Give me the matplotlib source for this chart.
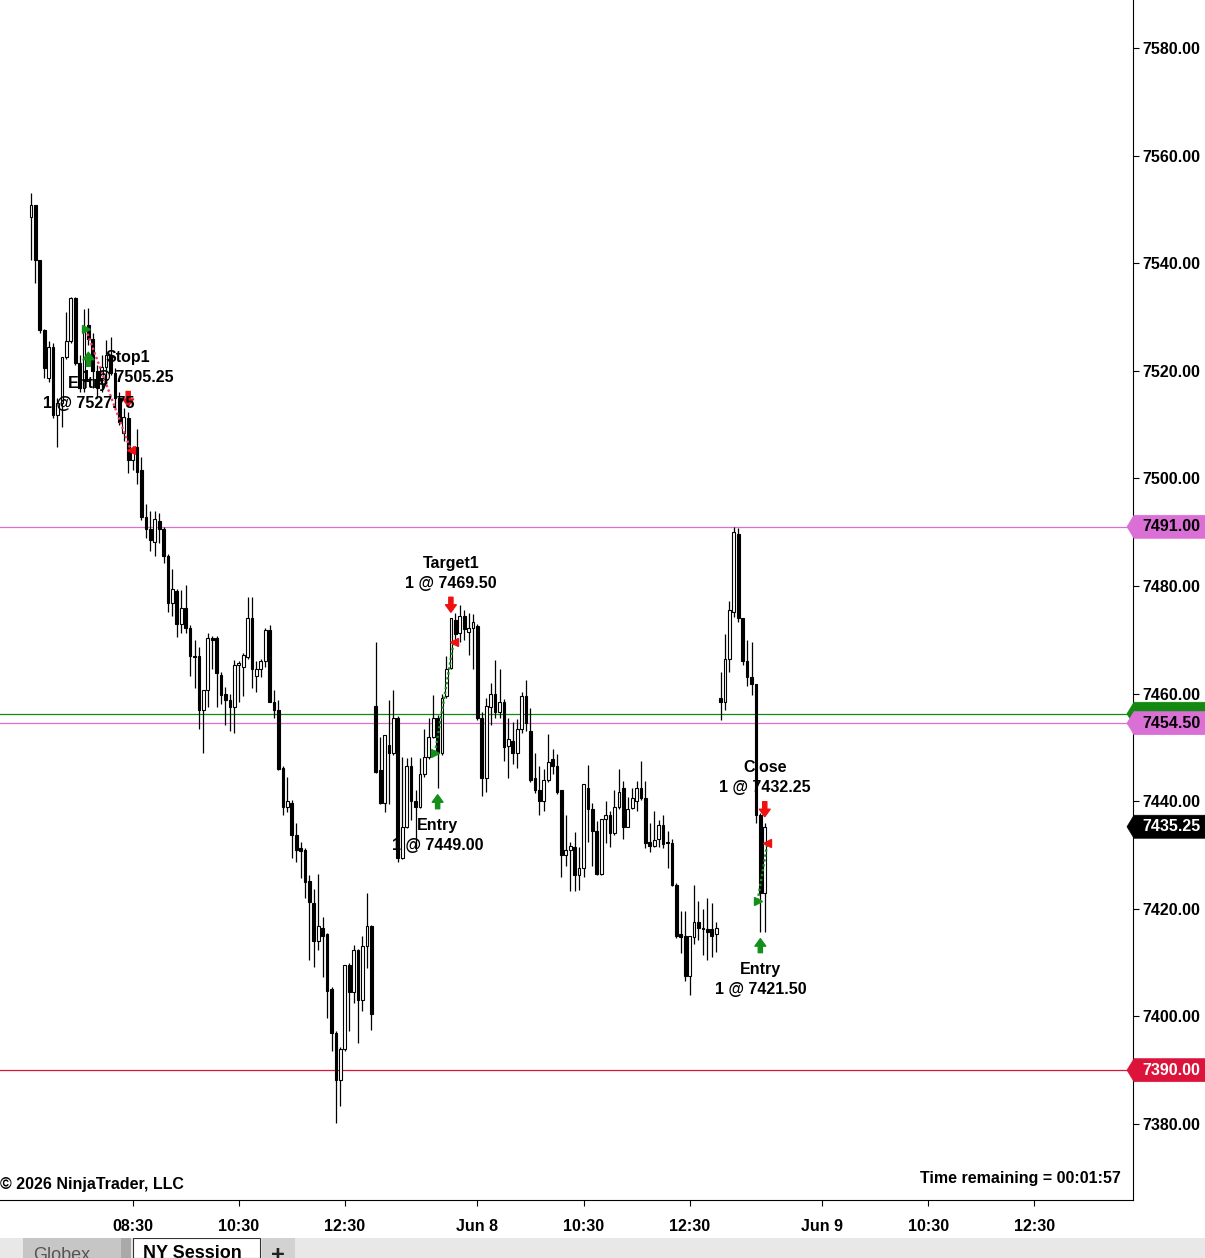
import numpy as np
import matplotlib.pyplot as plt
from matplotlib.patches import Polygon, Rectangle
from matplotlib.transforms import blended_transform_factory

plt.rcParams['font.family'] = ['Liberation Sans', 'DejaVu Sans']
plt.rcParams['font.size'] = 11.5
plt.rcParams['font.weight'] = 'bold'

# --- session 1 (Jun 5), 5 minute bars
d1_open = [7548.5, 7550.75, 7540.5, 7527.5, 7518.75, 7524.5, 7511.75, 7514, 7522.5, 7525.5,
           7533.5, 7521.5, 7516.75, 7528.5, 7526, 7520, 7518.75, 7520.75, 7523, 7519.5,
           7515, 7508.5, 7511.25, 7503.5, 7505.75, 7501.5, 7492.75, 7490.5, 7488.25, 7492,
           7490.5, 7485.5, 7476.75, 7479, 7473, 7476, 7472.25, 7467, 7467, 7457,
           7460.75, 7470.25, 7470.25, 7463.5, 7460, 7458.75, 7457.5, 7465.25, 7465, 7466.75,
           7474, 7463.25, 7464.5, 7466, 7471.75, 7458.5, 7457, 7446.25, 7439, 7439.75,
           7433.75, 7431.25, 7431, 7425.25, 7421, 7414, 7416.5, 7415.25, 7405, 7397,
           7388.25, 7394, 7409.5, 7404.5, 7412.25, 7403, 7413, 7416.75]
d1_high = [7553, 7550.75, 7540.5, 7527.75, 7525.5, 7525.25, 7515, 7522.5, 7531, 7533.75,
           7533.75, 7523, 7531.5, 7531.75, 7527, 7521, 7523, 7525.75, 7526.25, 7520.5,
           7516, 7513, 7512.25, 7506, 7509.25, 7504, 7495.25, 7494, 7494, 7493.5,
           7491, 7486, 7483.25, 7479.5, 7479.25, 7480.25, 7472.75, 7470, 7468.75, 7460.75,
           7471.25, 7470.75, 7470.75, 7464, 7461.25, 7460, 7466.25, 7466, 7467.5, 7478,
           7478, 7466, 7466.5, 7472.25, 7472.75, 7460.75, 7458.75, 7446.5, 7444.5, 7440.25,
           7436, 7432.5, 7431.25, 7426.25, 7423.75, 7426.5, 7418.5, 7415.5, 7405.5, 7397.25,
           7394.25, 7409.5, 7410, 7413.25, 7412.5, 7415, 7423, 7417]
d1_low = [7540.5, 7536.25, 7527, 7518.75, 7518, 7511.25, 7505.75, 7509.5, 7522.25, 7525.25,
          7521, 7516, 7516, 7524.75, 7516.75, 7515, 7516, 7517.5, 7519.25, 7513,
          7510, 7507, 7501, 7501.5, 7499, 7492.25, 7489, 7486.5, 7485.5, 7488,
          7484.25, 7475.25, 7474.5, 7470.5, 7471.25, 7471.25, 7463.25, 7461, 7453.5, 7449,
          7457.5, 7464.5, 7457.5, 7458, 7454.25, 7453, 7452.75, 7458.5, 7459.5, 7466.5,
          7461, 7460.25, 7463, 7465, 7458.5, 7455.5, 7445.75, 7437.5, 7438, 7429.5,
          7428.75, 7425.75, 7422, 7410.5, 7409.25, 7412.25, 7407.25, 7399.75, 7393.5, 7380.25,
          7383.25, 7393.5, 7397.25, 7402.5, 7395, 7401, 7409, 7397.5]
d1_close = [7550.75, 7540.5, 7527.5, 7520.5, 7524.5, 7511.75, 7514, 7522.5, 7525.5, 7533.5,
            7521.5, 7516.75, 7528, 7526, 7520, 7516.75, 7520.75, 7523, 7519.5, 7515,
            7510.5, 7511.5, 7503.5, 7505, 7501.25, 7492.75, 7490.5, 7488.5, 7492.5, 7490.5,
            7485.5, 7476.75, 7479.5, 7473, 7476, 7472.25, 7467, 7466.75, 7457, 7460.75,
            7470.25, 7470, 7463.75, 7459.75, 7458.75, 7457.5, 7465.25, 7465.75, 7467.25, 7474,
            7464.5, 7464.5, 7466, 7471.75, 7458.5, 7457, 7446, 7439, 7440, 7433.75,
            7431, 7430.75, 7425, 7421.25, 7414, 7416.75, 7415, 7404.75, 7397, 7388.25,
            7394, 7409.5, 7404.5, 7412.25, 7403, 7413, 7416.75, 7400.5]

# --- session 2 (Jun 8)
d2_open = [7457.75, 7445.75, 7439.75, 7450.5, 7449, 7455.5, 7429.5, 7435.25, 7446.5, 7440,
           7439, 7445, 7448.25, 7452, 7455.5, 7449, 7459.5, 7464.75, 7473.75, 7471.25,
           7474.5, 7471.5, 7472.25, 7472.5, 7455.5, 7444.25, 7457.5, 7460, 7456.5, 7458.5,
           7450.25, 7451.25, 7449, 7453.5, 7459.5, 7453, 7444.25, 7442, 7440, 7444,
           7447.75, 7446.5, 7442, 7430, 7431, 7431.5, 7426.25, 7427.5, 7442.5, 7438.5,
           7434.5, 7426.5, 7436.75, 7437.5, 7434, 7439, 7442.5, 7435.25, 7438.75, 7440,
           7442.5, 7440.5, 7432.5, 7431.75, 7433, 7435.5, 7432.5, 7432.25, 7424.5, 7415.25,
           7415, 7407.5, 7414.75, 7417.5, 7416.5, 7416.25, 7416.25, 7415.25]
d2_high = [7469.5, 7452, 7452.25, 7458.75, 7460.75, 7455.75, 7448.25, 7448, 7448.25, 7442,
           7448, 7453.5, 7455.5, 7459.75, 7456, 7460, 7467, 7474, 7475, 7476.5,
           7475.5, 7475, 7474.75, 7473, 7456.5, 7459.25, 7462, 7466.25, 7464.5, 7459,
           7455.5, 7454.75, 7455.25, 7460.25, 7462.5, 7457.25, 7449, 7446.5, 7446, 7452.5,
           7449.75, 7448.75, 7442, 7437.5, 7432.5, 7434.25, 7431.5, 7443.25, 7446.75, 7439.75,
           7436.25, 7436.75, 7440, 7438.25, 7442, 7446, 7443.75, 7440.75, 7442.5, 7443.75,
           7447.5, 7443.75, 7436, 7438.25, 7436.5, 7437.5, 7434.5, 7433, 7424.75, 7419.5,
           7419.5, 7415, 7424.5, 7421.5, 7420, 7422, 7421, 7417.5]
d2_low = [7445.25, 7439.5, 7438, 7439.5, 7448.5, 7428.75, 7429.25, 7435, 7436.5, 7431,
          7438.75, 7444.5, 7447.75, 7451.75, 7442.5, 7448.5, 7459.25, 7464.5, 7469.5, 7469.5,
          7470, 7467.25, 7464.5, 7455, 7441, 7441.75, 7454.25, 7455.5, 7455.5, 7447.5,
          7444.25, 7447, 7446.25, 7452.75, 7453, 7443.5, 7441.5, 7437.5, 7438.25, 7443.5,
          7445, 7441.25, 7426, 7428, 7423.25, 7423.25, 7423.5, 7426, 7432.5, 7428,
          7426.25, 7426.25, 7432.25, 7431.5, 7433.75, 7438.5, 7433, 7435.25, 7438.5, 7438.25,
          7440.25, 7431.25, 7430.5, 7431.5, 7431.5, 7431.25, 7427.5, 7424.25, 7414.5, 7411.75,
          7406.5, 7404, 7413.5, 7414.25, 7411.5, 7410.5, 7411, 7412]
d2_close = [7445.5, 7439.75, 7452.25, 7449, 7455.5, 7429.5, 7435.25, 7446.5, 7440, 7439,
            7445, 7448.25, 7452, 7455.5, 7449, 7459.25, 7464.5, 7474, 7471, 7474.5,
            7472, 7472.25, 7473.25, 7455.5, 7444.25, 7457.75, 7460, 7456.5, 7458.5, 7450,
            7451.5, 7449, 7453.5, 7459.5, 7454.5, 7444, 7442, 7440, 7444, 7447.25,
            7446.5, 7441.75, 7430, 7431, 7431.75, 7426.25, 7427.5, 7443.25, 7438.5, 7434.5,
            7426.5, 7436.75, 7437.5, 7434, 7439, 7441.75, 7435.25, 7438.5, 7440.5, 7442.5,
            7440.5, 7432.25, 7431.75, 7432.75, 7435.5, 7432, 7432.25, 7424.5, 7415, 7414.75,
            7407.5, 7415, 7417.5, 7416.5, 7416.25, 7415.75, 7415, 7416.5]

# --- session 3 (Jun 9), still running
d3_open = [7459.25, 7458.5, 7466.5, 7475.25, 7489.75, 7474, 7466, 7463, 7461.75, 7437.5, 7423]
d3_high = [7464, 7471, 7477.25, 7491, 7490.75, 7474, 7470, 7469.5, 7461.75, 7437.75, 7436]
d3_low = [7455, 7457, 7464, 7474.25, 7473.25, 7465.25, 7461.5, 7459.75, 7436, 7415.75, 7415.75]
d3_close = [7458.5, 7466.5, 7475.5, 7490, 7474, 7466, 7463, 7461.75, 7437.5, 7423, 7435.25]

# trades (bar number counted over all sessions)
entry_bar = [13, 92, 165]
exit_bar = [22, 95, 166]
entry_price = [7527.75, 7449.00, 7421.50]
exit_price = [7505.25, 7469.50, 7432.25]
exit_name = ['Stop1', 'Target1', 'Close']
qty = [1, 1, 1]

# horizontal price levels (the green one sits behind the pink tag)
level_price = [7491.00, 7456.25, 7454.50, 7390.00]
level_color = ['#DA70D6', '#128A12', '#DA70D6', '#DC143C']
level_text = ['black', None, 'black', 'white']

# x axis labels: (session, time, label)
tick_session = [0, 0, 0, 1, 1, 1, 2, 2, 2]
tick_time = ['08:30', '10:30', '12:30', '08:30', '10:30', '12:30', '08:30', '10:30', '12:30']
tick_label = ['08:30', '10:30', '12:30', 'Jun 8', '10:30', '12:30', 'Jun 9', '10:30', '12:30']
bars_per_session = 78

opens = np.array(d1_open + d2_open + d3_open)
highs = np.array(d1_high + d2_high + d3_high)
lows = np.array(d1_low + d2_low + d3_low)
closes = np.array(d1_close + d2_close + d3_close)
idx = np.arange(len(opens))


def bar_of(session, hhmm):
    h, m = hhmm.split(':')
    minutes = int(h) * 60 + int(m)
    return session * bars_per_session + (minutes - (6 * 60 + 35)) / 5


W, H = 1205, 1258
fig = plt.figure(figsize=(W / 100, H / 100), dpi=100)
ax = fig.add_axes([0, 58 / H, 1133 / W, 1200 / H])
ymin, ymax = 7365.87, 7588.92
ax.set_xlim(-7.0, 249.3)
ax.set_ylim(ymin, ymax)
px = 1200 / (ymax - ymin)   # pixels per point of price
pt = 0.72                   # points per pixel

# candles
up = closes >= opens
ax.vlines(idx, lows, highs, color='black', lw=0.9, zorder=2)
ax.bar(idx, np.abs(closes - opens), bottom=np.minimum(opens, closes), width=0.62,
       color=np.where(up, 'white', 'black'), edgecolor='black', linewidth=0.8, zorder=3)

# level lines + tags on the price axis
trans = blended_transform_factory(ax.transAxes, ax.transData)
tag_z = [10]


def price_tag(p, face, tc):
    h = 11.5 / px
    x0, x1, x2 = 1127 / 1133, 1134 / 1133, 1205 / 1133
    z = tag_z[0]
    tag_z[0] += 2
    poly = Polygon([(x0, p), (x1, p + h), (x2, p + h), (x2, p - h), (x1, p - h)], closed=True,
                   transform=trans, facecolor=face, edgecolor=face, lw=0.5, clip_on=False, zorder=z)
    ax.add_patch(poly)
    if tc is not None:
        ax.text(1142 / 1133, p, f'{p:.2f}', transform=trans, ha='left', va='center', color=tc,
                fontsize=11.5, fontweight='bold', clip_on=False, zorder=z + 1)


for p, c, tc in zip(level_price, level_color, level_text):
    ax.axhline(p, color=c, lw=0.9, zorder=1)
    price_tag(p, c, tc)
price_tag(closes[-1], 'black', 'white')

# trades
green = '#14901A'
red = '#F01010'
for k in range(len(entry_bar)):
    ei, xi = entry_bar[k], exit_bar[k]
    lo, hi = lows[ei], highs[xi]
    win = exit_price[k] > entry_price[k]
    ax.plot([ei - 0.6, xi + 0.6], [entry_price[k], exit_price[k]], ls=(0, (1, 1.1)), lw=1.7,
            color=green if win else '#F0406A', zorder=4)
    ax.plot(ei - 0.6, entry_price[k], marker='>', color=green, ms=6, zorder=5)
    ax.plot(xi + 0.6, exit_price[k], marker='<', color=red, ms=6, zorder=5)
    ax.annotate('', xy=(ei, lo), xytext=(0, -21 * pt), textcoords='offset points',
                arrowprops=dict(arrowstyle='simple,head_length=0.45,head_width=0.65,tail_width=0.25',
                                mutation_scale=12, color=green, shrinkA=0, shrinkB=7 * pt), zorder=5)
    ax.annotate('', xy=(xi, hi), xytext=(0, 21 * pt), textcoords='offset points',
                arrowprops=dict(arrowstyle='simple,head_length=0.45,head_width=0.65,tail_width=0.25',
                                mutation_scale=12, color=red, shrinkA=0, shrinkB=6 * pt), zorder=5)
    ax.annotate('Entry', xy=(ei, lo), xytext=(0, -38 * pt), textcoords='offset points',
                ha='center', va='center', fontsize=11.5, fontweight='bold', zorder=8)
    ax.annotate(f'{qty[k]} @ {entry_price[k]:.2f}', xy=(ei, lo), xytext=(0, -58 * pt),
                textcoords='offset points', ha='center', va='center', fontsize=11.5,
                fontweight='bold', zorder=8)
    ax.annotate(exit_name[k], xy=(xi, hi), xytext=(0, 55 * pt), textcoords='offset points',
                ha='center', va='center', fontsize=11.5, fontweight='bold', zorder=8)
    ax.annotate(f'{qty[k]} @ {exit_price[k]:.2f}', xy=(xi, hi), xytext=(0, 35 * pt),
                textcoords='offset points', ha='center', va='center', fontsize=11.5,
                fontweight='bold', zorder=8)

# axes
for s in ['top', 'left']:
    ax.spines[s].set_visible(False)
for s in ['right', 'bottom']:
    ax.spines[s].set_linewidth(0.8)
ax.yaxis.tick_right()
ax.set_yticks(np.arange(7380, 7581, 20))
ax.set_yticklabels([f'{v:.2f}' for v in np.arange(7380, 7581, 20)])
ax.tick_params(axis='y', length=4.5, width=0.8, pad=2.5, labelsize=11.5)
ax.set_xticks([bar_of(s, t) for s, t in zip(tick_session, tick_time)])
ax.set_xticklabels(tick_label)
ax.tick_params(axis='x', length=4, width=0.8, pad=9.5, labelsize=11.5)
for lab in ax.get_xticklabels() + ax.get_yticklabels():
    lab.set_fontweight('bold')

fig.text(0, 1 - 1184 / H, '© 2026 NinjaTrader, LLC', ha='left', va='center',
         fontsize=11.5, fontweight='bold')
fig.text(1121 / W, 1 - 1178 / H, 'Time remaining = 00:01:57', ha='right', va='center',
         fontsize=11.5, fontweight='bold')

# tab strip at the bottom
tab = fig.add_axes([0, 0, 1, 20 / H])
tab.set_xlim(0, W)
tab.set_ylim(20, 0)
tab.axis('off')
tab.add_patch(Rectangle((0, 0), W, 20, facecolor='#E8E8E8', edgecolor='none'))
tab.add_patch(Rectangle((23, 0), 108, 20, facecolor='#C6C6C6', edgecolor='none'))
tab.add_patch(Rectangle((121, 0), 10, 20, facecolor='#A9A9A9', edgecolor='none'))
tab.add_patch(Rectangle((133, 0), 127, 20, facecolor='white', edgecolor='#333333', lw=0.8))
tab.add_patch(Rectangle((262, 0), 33, 20, facecolor='#D2D2D2', edgecolor='none'))
tab.text(33, 9, 'Globex', ha='left', va='top', fontsize=13, fontweight='normal',
         color='#555555', clip_on=True)
tab.text(143, 7, 'NY Session', ha='left', va='top', fontsize=13, fontweight='bold',
         color='black', clip_on=True)
tab.text(278, 6, '+', ha='center', va='top', fontsize=17, fontweight='bold',
         color='#222222', clip_on=True)

fig.savefig('out.png', dpi=100)
